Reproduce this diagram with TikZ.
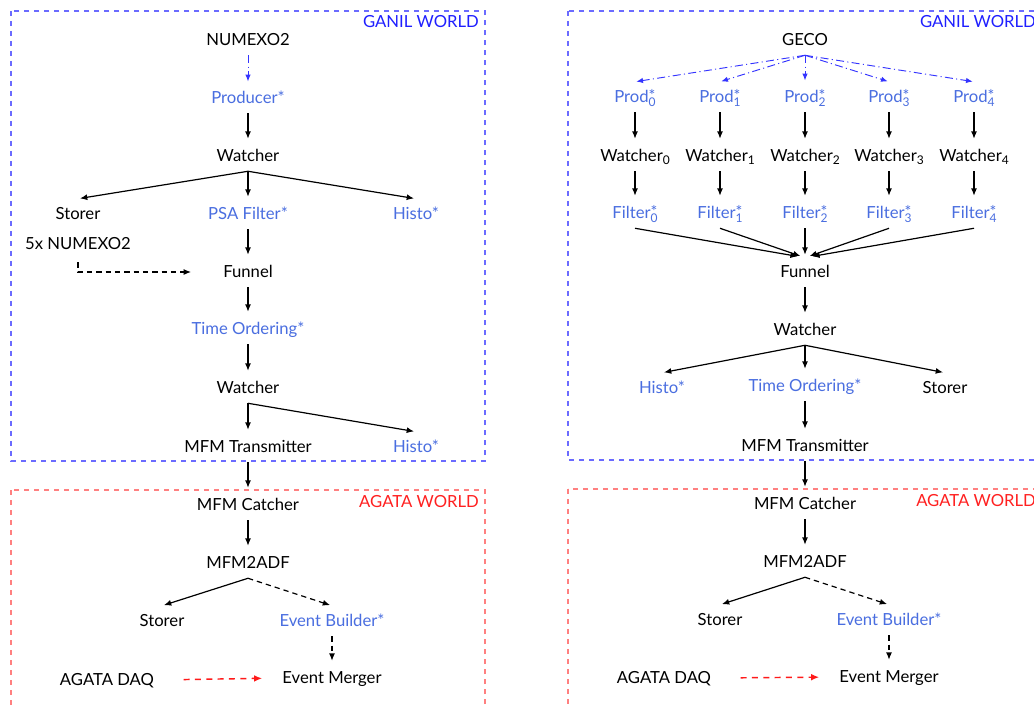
\documentclass[tikz,border=0pt]{standalone}
\usepackage{fontspec}
\setmainfont{Lato}
\usetikzlibrary{arrows.meta}
\definecolor{txtblue}{HTML}{4A6EE0}
\definecolor{boxblue}{HTML}{6B6BFF}
\definecolor{lblblue}{HTML}{1F1FFF}
\definecolor{boxred}{HTML}{FF8080}
\definecolor{lblred}{HTML}{FF2020}
\definecolor{arrred}{HTML}{FF1A1A}
\definecolor{dashblue}{HTML}{3333FF}
\newcommand\myfont{\fontsize{12.5pt}{14pt}\selectfont}
\newcommand\smallfig{\fontsize{9pt}{10pt}\selectfont}
\newcommand\starfig{\fontsize{12pt}{12pt}\selectfont}
\newcommand\lowsub[1]{\raisebox{-0.35ex}{\smallfig #1}}
\newcommand\starsub[1]{\rlap{\raisebox{0.1ex}{\starfig *}}\raisebox{-0.45ex}{\smallfig #1}}
\tikzset{
  lbl/.style={font=\myfont, inner sep=0pt, minimum height=22.5pt, text height=8.6pt, text depth=0pt},
  bl/.style={lbl, text=txtblue},
  arr/.style={-{Latex[length=5.5pt,width=4.5pt]}, line width=0.9pt, black, shorten >=1.5pt},
  darr/.style={arr, dash pattern=on 4pt off 3pt},
  ddarr/.style={-{Latex[length=5pt,width=4pt]}, dashblue, line width=0.7pt, dash pattern=on 6pt off 2.5pt on 0.8pt off 2.5pt, shorten >=1pt},
  redarr/.style={-{Latex[length=6pt,width=5pt]}, arrred, line width=1.1pt, dash pattern=on 4.5pt off 4pt},
  bluebox/.style={boxblue, line width=0.8pt, dash pattern=on 4pt off 3.5pt},
  redbox/.style={boxred, line width=0.8pt, dash pattern=on 4pt off 3.5pt},
  worldb/.style={lbl, text=lblblue, anchor=east},
  worldr/.style={lbl, text=lblred, anchor=east}
}
\begin{document}
\begin{tikzpicture}[x=0.75pt,y=-0.75pt]
\useasboundingbox (0,0) rectangle (1034,704);
\clip (0,0) rectangle (1034,704);
\fill[white] (0,0) rectangle (1034,704);

% ================= LEFT PANEL =================
\draw[bluebox] (11,11) rectangle (485,461);
\node[worldb] (gw1) at (479,22) {GANIL WORLD};
\node[lbl] (n1) at (248,40) {NUMEXO2};
\node[bl] (p1) at (248,98) {Producer*};
\node[lbl] (w1) at (248,156) {Watcher};
\node[lbl] (s1) at (78,214) {Storer};
\node[bl] (psa) at (248,214) {PSA Filter*};
\node[bl] (h1) at (416,214) {Histo*};
\node[lbl] (n5) at (78,244) {5x NUMEXO2};
\node[lbl] (f1) at (248,272) {Funnel};
\node[bl] (t1) at (248,329) {Time Ordering*};
\node[lbl] (w2) at (248,388) {Watcher};
\node[lbl] (m1) at (248,447) {MFM Transmitter};
\node[bl] (h2) at (416,447) {Histo*};

\draw[ddarr] (n1.south) -- (p1.north);
\draw[arr] (p1.south) -- (w1.north);
\draw[arr] (w1.south) -- (s1.north);
\draw[arr] (w1.south) -- (psa.north);
\draw[arr] (w1.south) -- (h1.north);
\draw[arr] (psa.south) -- (f1.north);
\draw[darr, shorten <=2.25pt, shorten >=24pt] (n5.south) |- (f1.west);
\draw[arr] (f1.south) -- (t1.north);
\draw[arr] (t1.south) -- (w2.north);
\draw[arr] (w2.south) -- (m1.north);
\draw[arr] (w2.south) -- (h2.north);

\draw[redbox] (11,490) rectangle (485,720);
\node[worldr] (aw1) at (479,502) {AGATA WORLD};
\node[lbl] (c1) at (248,505) {MFM Catcher};
\node[lbl] (a1) at (248,563) {MFM2ADF};
\node[lbl] (s2) at (162,621) {Storer};
\node[bl] (eb1) at (332,621) {Event Builder*};
\node[lbl] (em1) at (332,678) {Event Merger};
\node[lbl] (daq1) at (107,680) {AGATA DAQ};

\draw[arr] (m1.south) -- (c1.north);
\draw[arr] (c1.south) -- (a1.north);
\draw[arr] (a1.south) -- (s2.north);
\draw[darr] (a1.south) -- (eb1.north);
\draw[darr] (eb1.south) -- (em1.north);
\draw[redarr, shorten <=22pt, shorten >=15pt] (daq1.east) -- (em1.west);

% ================= RIGHT PANEL =================
\draw[bluebox] (568,11) rectangle (1042,460);
\node[worldb] (gw2) at (1036,22) {GANIL WORLD};
\node[lbl] (geco) at (805,40) {GECO};
\foreach \i/\x in {0/635,1/720,2/805,3/889,4/974}{
  \node[bl] (pr\i) at (\x,97) {Prod\starsub{\i}};
  \node[lbl] (wr\i) at (\x,156) {Watcher\lowsub{\i}};
  \node[bl] (fr\i) at (\x,213) {Filter\starsub{\i}};
}
\node[lbl] (f2) at (805,272) {Funnel};
\node[lbl] (w3) at (805,330) {Watcher};
\node[bl] (h3) at (662,388) {Histo*};
\node[bl] (t2) at (805,386) {Time Ordering*};
\node[lbl] (s3) at (945,388) {Storer};
\node[lbl] (m2) at (805,446) {MFM Transmitter};

\foreach \i in {0,...,4}{
  \draw[ddarr] (geco.south) -- (pr\i.north);
  \draw[arr] (pr\i.south) -- (wr\i.north);
  \draw[arr] (wr\i.south) -- (fr\i.north);
}
\draw[arr] (fr0.south) -- ([xshift=-4pt]f2.north);
\draw[arr] (fr1.south) -- ([xshift=-2pt]f2.north);
\draw[arr] (fr2.south) -- (f2.north);
\draw[arr] (fr3.south) -- ([xshift=2pt]f2.north);
\draw[arr] (fr4.south) -- ([xshift=4pt]f2.north);
\draw[arr] (f2.south) -- (w3.north);
\draw[arr] (w3.south) -- (h3.north);
\draw[arr] (w3.south) -- (t2.north);
\draw[arr] (w3.south) -- (s3.north);
\draw[arr] (t2.south) -- (m2.north);

\draw[redbox] (568,489) rectangle (1042,720);
\node[worldr] (aw2) at (1036,501) {AGATA WORLD};
\node[lbl] (c2) at (805,504) {MFM Catcher};
\node[lbl] (a2) at (805,562) {MFM2ADF};
\node[lbl] (s4) at (720,620) {Storer};
\node[bl] (eb2) at (889,620) {Event Builder*};
\node[lbl] (em2) at (889,677) {Event Merger};
\node[lbl] (daq2) at (664,678) {AGATA DAQ};

\draw[arr] (m2.south) -- (c2.north);
\draw[arr] (c2.south) -- (a2.north);
\draw[arr] (a2.south) -- (s4.north);
\draw[darr] (a2.south) -- (eb2.north);
\draw[darr] (eb2.south) -- (em2.north);
\draw[redarr, shorten <=22pt, shorten >=15pt] (daq2.east) -- (em2.west);
\end{tikzpicture}
\end{document}
